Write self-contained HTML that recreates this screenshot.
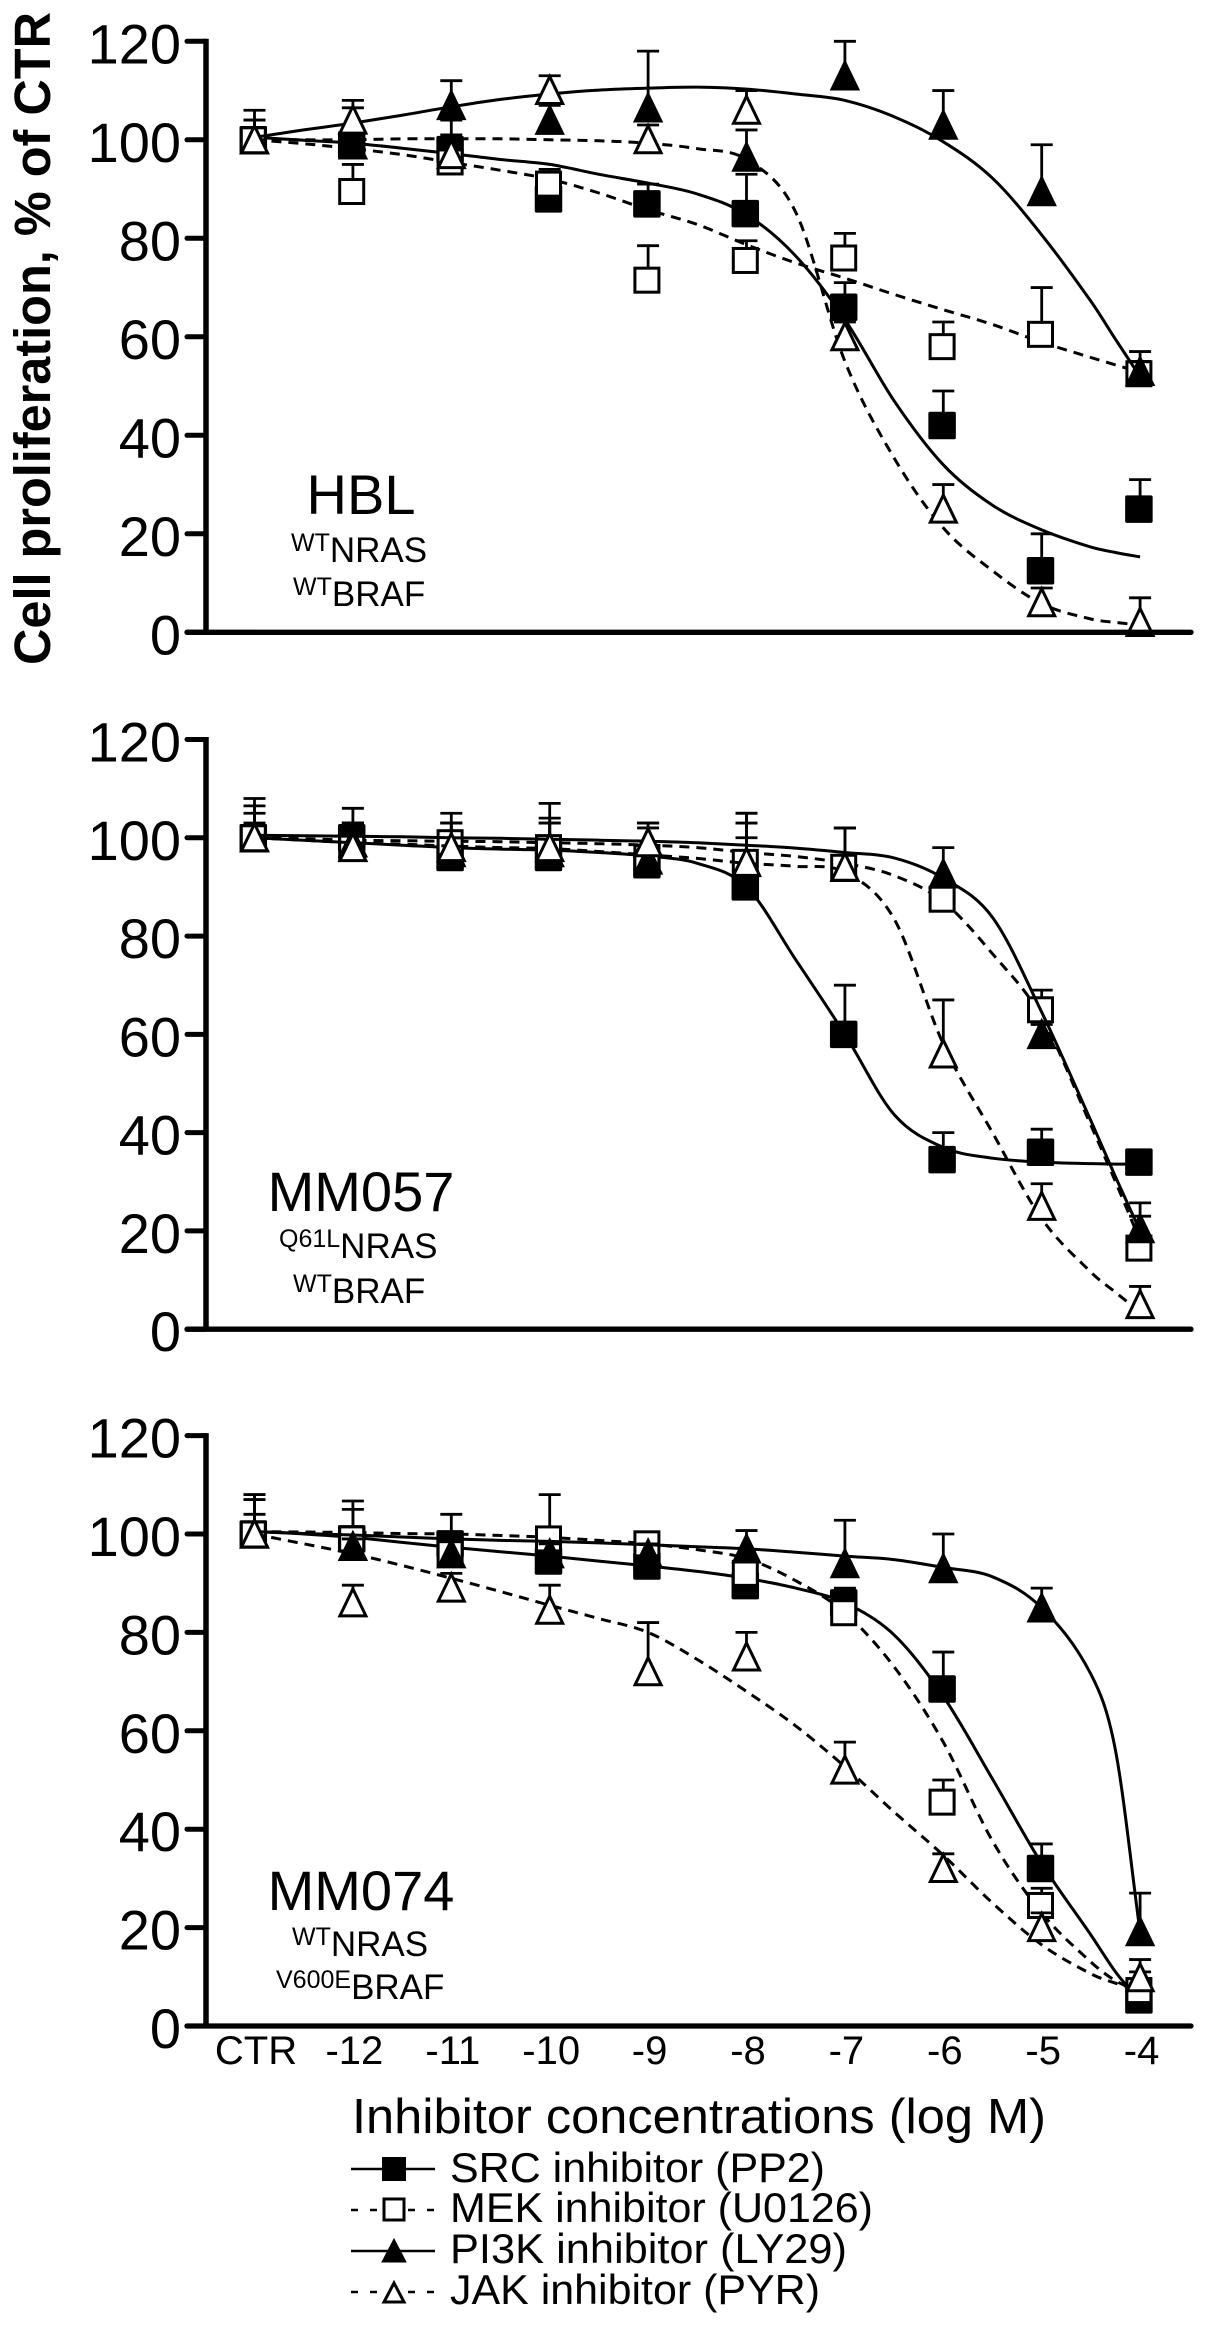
<!DOCTYPE html>
<html lang="en">
<head>
<meta charset="utf-8">
<title>Cell proliferation vs inhibitor concentration</title>
<style>
html,body{margin:0;padding:0;background:#fff;}
svg{display:block;}
text{font-family:"Liberation Sans",Arial,sans-serif;fill:#000;}
</style>
</head>
<body>
<svg id="chart" xmlns="http://www.w3.org/2000/svg" width="1205" height="2327" viewBox="0 0 1205 2327">
  <rect x="0" y="0" width="1205" height="2327" fill="#fff"/>
  <text transform="translate(50,665) rotate(-90)" font-size="51" font-weight="700" textLength="653" lengthAdjust="spacingAndGlyphs">Cell proliferation, % of CTR</text>

  <text x="361" y="514" font-size="56" text-anchor="middle">HBL</text>
  <text x="291" y="562" font-size="35"><tspan font-size="25" dy="-11">WT</tspan><tspan dy="11">NRAS</tspan></text>
  <text x="293" y="606" font-size="35"><tspan font-size="25" dy="-11">WT</tspan><tspan dy="11">BRAF</tspan></text>

  <text x="361" y="1211" font-size="56" text-anchor="middle">MM057</text>
  <text x="279" y="1258" font-size="35"><tspan font-size="25" dy="-11">Q61L</tspan><tspan dy="11">NRAS</tspan></text>
  <text x="293" y="1303" font-size="35"><tspan font-size="25" dy="-11">WT</tspan><tspan dy="11">BRAF</tspan></text>

  <text x="361" y="1910" font-size="56" text-anchor="middle">MM074</text>
  <text x="292" y="1956" font-size="35"><tspan font-size="25" dy="-11">WT</tspan><tspan dy="11">NRAS</tspan></text>
  <text x="276" y="1999" font-size="35"><tspan font-size="25" dy="-11">V600E</tspan><tspan dy="11">BRAF</tspan></text>

  <text x="352" y="2133" font-size="49" textLength="694" lengthAdjust="spacingAndGlyphs">Inhibitor concentrations (log M)</text>

  <g>
    <g>
      <line x1="351" x2="435" y1="2169" y2="2169" stroke="#000" stroke-width="2.6"/>
      <rect x="382.500" y="2157.500" width="23" height="23" fill="#000" stroke="#000" stroke-width="1"/>
      <text x="450" y="2182" font-size="42" textLength="375" lengthAdjust="spacingAndGlyphs">SRC inhibitor (PP2)</text>
    </g>
    <g>
      <line x1="351" x2="435" y1="2210" y2="2210" stroke="#000" stroke-width="2.6" stroke-dasharray="7 12"/>
      <rect x="384" y="2199" width="20" height="21" fill="#fff" stroke="#000" stroke-width="3"/>
      <text x="450" y="2222" font-size="42" textLength="423" lengthAdjust="spacingAndGlyphs">MEK inhibitor (U0126)</text>
    </g>
    <g>
      <line x1="351" x2="435" y1="2251" y2="2251" stroke="#000" stroke-width="2.6"/>
      <polygon points="394,2239 406,2262 382,2262" fill="#000" stroke="#000" stroke-width="1"/>
      <text x="450" y="2263" font-size="42" textLength="397" lengthAdjust="spacingAndGlyphs">PI3K inhibitor (LY29)</text>
    </g>
    <g>
      <line x1="351" x2="435" y1="2292" y2="2292" stroke="#000" stroke-width="2.6" stroke-dasharray="7 12"/>
      <polygon points="394,2283 404,2302 384,2302" fill="#fff" stroke="#000" stroke-width="3"/>
      <text x="450" y="2304" font-size="42" textLength="370" lengthAdjust="spacingAndGlyphs">JAK inhibitor (PYR)</text>
    </g>
  </g>
</svg>
<script>
// Shared axis data
const categories = ["CTR","-12","-11","-10","-9","-8","-7","-6","-5","-4"];
const concLogM = [-13,-12,-11,-10,-9,-8,-7,-6,-5,-4];
const yTicks = [0,20,40,60,80,100,120];
const curveLogM = [-13,-12.5,-12,-11.5,-11,-10.5,-10,-9.5,-9,-8.5,-8,-7.5,-7,-6.5,-6,-5.5,-5,-4.5,-4.25,-4];

// HBL panel
const hblSrc = [100,99,98,88,87,85,66,42,12.5,25];
const hblSrcTop = [104,101,104,90,91,93,71,49,20,31];
const hblSrcFit = [100.5,99.9,99.3,98.3,97.2,96,95,93,91.2,89,84.8,76.4,63.5,47,34,25.8,20.8,17.3,16.2,15.3];
const hblMek = [100,89.5,95.5,91,71.5,75.5,76,58,60.5,52.5];
const hblMekTop = [104,95,98,94,78.5,79.5,81,63,70,55];
const hblMekFit = [100,99.2,98.2,97,95.4,93.8,92,89.2,85.8,82.8,78.7,75,71.9,68.6,65.5,62.5,58.9,55.8,54.3,52.8];
const hblPi3k = [100,99,107,104,106.5,96.5,113,103,89.5,53];
const hblPi3kTop = [104,106.5,112,107,118,102,120,110,99,57];
const hblPi3kFit = [100.5,102,103.4,105,106.7,108.2,109.3,110.1,110.5,110.7,110.3,109.3,108,104.7,99.6,92.2,80.7,67.2,59.5,51.9];
const hblJak = [100,104,97,110,100,106,60,25,6,2];
const hblJakTop = [106,108,101,113,103,110,63,30,9,7];
const hblJakFit = [100,100,100,100.2,100.2,100.2,100,99.8,99.3,98.2,96,85.3,55,35.4,21.2,12.5,5.8,2.7,2,1.5];

// MM057 panel
const mm057Src = [100,100,96,96,94.5,90,60,34.5,36,34];
const mm057SrcTop = [103,103,100.5,103,96,100,70,40,40.7,35];
const mm057SrcFit = [100,99.5,99,98.5,98,97.7,97.5,97,96.3,94.8,90,75.2,60,43.7,37,34.8,34,33.7,33.6,33.6];
const mm057Mek = [100,98,99,98,96,95,94,87.5,65,16.5];
const mm057MekTop = [106.5,106,103,104,102,103,102,90,69,23];
const mm057MekFit = [100,99.8,99.5,99.4,99.3,99.2,99,98.8,98.5,98,97,96.2,94.8,92.3,87,76.4,63.5,41.5,30,18];
const mm057Pi3k = [100,99,97,97,95.5,95,94,92.7,60,20.5];
const mm057Pi3kTop = [105,103,103,107,103,105,102,98,62,25.7];
const mm057Pi3kFit = [100.5,100.4,100.3,100.2,100,99.9,99.7,99.5,99.3,99,98.5,97.9,97,95.9,91.8,83.8,64.5,42.4,31,20];
const mm057Jak = [100,98,98,98,99,95,94,56,25,5];
const mm057JakTop = [108,103,105,103,103,105,102,67,29.6,8.7];
const mm057JakFit = [100,99.5,99,98.7,98.3,98,97.8,97.2,96.5,95.8,94.8,94.2,93,83.5,58,40,22.5,11.6,7.5,3.5];

// MM074 panel
const mm074Src = [100,99,98,94.5,93.5,89.5,86,68.5,32,5.3];
const mm074SrcTop = [104,105,104,98,96,92,89,76,37,7];
const mm074SrcFit = [100.5,100,99.3,98.3,97.3,96.4,95.5,94.5,93.5,92.4,91,89,86,79.5,67,50.2,33,18.5,11,5];
const mm074Mek = [100,99,96,99,98,92,84,45.5,24.5,7.2];
const mm074MekTop = [107,106.7,100,108,100,95,88,50,28,11];
const mm074MekFit = [100.5,100.4,100.3,100.1,100,99.7,99.3,98.7,98,96.8,95,90.5,84,73,57.7,37.6,23,13,9.2,7];
const mm074Pi3k = [100,97.5,96,96,96,97,94,93,85,19.2];
const mm074Pi3kTop = [108,99,100,98,98,100.7,102.8,100,89,27];
const mm074Pi3kFit = [100.5,100.1,99.8,99.4,99,98.7,98.5,98.2,97.8,97.4,97,96.3,95.5,94.8,93.2,91.3,85,71.5,56,19];
const mm074Jak = [100,86,89,84.5,72,75,52,32,20,9.8];
const mm074JakTop = [108,89.6,92,89.6,82,80,57.7,35,23,13.5];
const mm074JakFit = [100,98,96,93.6,91,88.3,85.5,82.8,80,74.5,68,61,52.7,43.5,34.7,25,16.5,10.6,8.7,7.3];

const svg = document.getElementById('chart');
const NS = 'http://www.w3.org/2000/svg';

function make(tag, attrs, parent) {
  const n = document.createElementNS(NS, tag);
  for (const k in attrs) n.setAttribute(k, attrs[k]);
  parent.appendChild(n);
  return n;
}

function xScale(logM) { return 254.5 + (logM + 13) * 98.4; }
function yScaleFor(zeroY, topY) {
  const unit = (zeroY - topY) / 120;
  return function (v) { return zeroY - v * unit; };
}

function fitPath(xs, ys, x, y) {
  const p = xs.map(function (lx, i) { return [x(lx), y(ys[i])]; });
  const n = p.length;
  const m = p.map(function (pt, i) {
    const a = p[Math.max(i - 1, 0)], b = p[Math.min(i + 1, n - 1)];
    return (b[1] - a[1]) / (b[0] - a[0]);
  });
  let d = 'M' + p[0][0].toFixed(1) + ',' + p[0][1].toFixed(1);
  for (let i = 0; i < n - 1; i++) {
    const h = (p[i + 1][0] - p[i][0]) / 3;
    d += 'C' + (p[i][0] + h).toFixed(1) + ',' + (p[i][1] + m[i] * h).toFixed(1) + ' ' +
      (p[i + 1][0] - h).toFixed(1) + ',' + (p[i + 1][1] - m[i + 1] * h).toFixed(1) + ' ' +
      p[i + 1][0].toFixed(1) + ',' + p[i + 1][1].toFixed(1);
  }
  return d;
}

function drawAxes(panelName, zeroY, y, group) {
  const yAxis = make('line', {x1: 206, x2: 206, y1: y(120) - 2.5, y2: zeroY, stroke: '#000', 'stroke-width': 5.5}, group);
  
  
  const xAxis = make('line', {x1: 187, x2: 1191, y1: zeroY, y2: zeroY, stroke: '#000', 'stroke-width': 5.3, 'stroke-linecap': 'round'}, group);
  
  
  yTicks.forEach(function (t) {
    const tick = make('line', {x1: 187, x2: 205, y1: y(t), y2: y(t), stroke: '#000', 'stroke-width': 5, 'stroke-linecap': 'round'}, group);
    
    
    const label = make('text', {x: 181, y: y(t) + 22, 'font-size': 56, 'text-anchor': 'end'}, group);
    
    
    label.textContent = String(t);
  });
}

function drawMarker(kind, cx, cy, group) {
  let m;
  if (kind === 'src') {
    m = make('rect', {x: cx - 14.200, y: cy - 13, width: 26, height: 26, fill: '#000', stroke: '#000', 'stroke-width': 1.5, rx: 1}, group);
  } else if (kind === 'mek') {
    m = make('rect', {x: cx - 13.200, y: cy - 12, width: 24, height: 24, fill: '#fff', stroke: '#000', 'stroke-width': 3}, group);
  } else if (kind === 'pi3k') {
    m = make('polygon', {points: cx + ',' + (cy - 15) + ' ' + (cx + 14) + ',' + (cy + 14) + ' ' + (cx - 14) + ',' + (cy + 14), fill: '#000', stroke: '#000', 'stroke-width': 1.5}, group);
  } else {
    m = make('polygon', {points: cx + ',' + (cy - 14) + ' ' + (cx + 13) + ',' + (cy + 13) + ' ' + (cx - 13) + ',' + (cy + 13), fill: '#fff', stroke: '#000', 'stroke-width': 3}, group);
  }
  return m;
}

function drawSeries(panelName, kind, dashed, vals, tops, fit, y, group) {
  const g = make('g', {}, group);
  
  
  const attrs = {d: fitPath(curveLogM, fit, xScale, y), fill: 'none', stroke: '#000', 'stroke-width': 3};
  if (dashed) attrs['stroke-dasharray'] = '10 7';
  const curve = make('path', attrs, g);
  
  
  concLogM.forEach(function (lm, i) {
    const cx = xScale(lm), cy = y(vals[i]), ty = y(tops[i]);
    const bar = make('path', {d: 'M' + cx + ',' + cy + 'V' + ty + 'M' + (cx - 11) + ',' + ty + 'H' + (cx + 11), fill: 'none', stroke: '#000', 'stroke-width': 2.8}, g);
    
    
  });
  concLogM.forEach(function (lm, i) {
    const marker = drawMarker(kind, xScale(lm), y(vals[i]), g);
    
    
  });
}

function drawPanel(panelName, zeroY, topY, seriesList) {
  const group = make('g', {}, svg);
  
  
  const y = yScaleFor(zeroY, topY);
  seriesList.forEach(function (s) {
    drawSeries(panelName, s[0], s[1], s[2], s[3], s[4], y, group);
  });
  drawAxes(panelName, zeroY, y, group);
}

drawPanel('hbl', 632.3, 41.3, [
  ['src', false, hblSrc, hblSrcTop, hblSrcFit],
  ['mek', true, hblMek, hblMekTop, hblMekFit],
  ['pi3k', false, hblPi3k, hblPi3kTop, hblPi3kFit],
  ['jak', true, hblJak, hblJakTop, hblJakFit]
]);
drawPanel('mm057', 1329.2, 739.5, [
  ['src', false, mm057Src, mm057SrcTop, mm057SrcFit],
  ['mek', true, mm057Mek, mm057MekTop, mm057MekFit],
  ['pi3k', false, mm057Pi3k, mm057Pi3kTop, mm057Pi3kFit],
  ['jak', true, mm057Jak, mm057JakTop, mm057JakFit]
]);
drawPanel('mm074', 2026, 1435.6, [
  ['src', false, mm074Src, mm074SrcTop, mm074SrcFit],
  ['mek', true, mm074Mek, mm074MekTop, mm074MekFit],
  ['pi3k', false, mm074Pi3k, mm074Pi3kTop, mm074Pi3kFit],
  ['jak', true, mm074Jak, mm074JakTop, mm074JakFit]
]);

categories.forEach(function (c, i) {
  const t = make('text', {x: xScale(concLogM[i]) + 1.5, y: 2064, 'font-size': 40, 'text-anchor': 'middle'}, svg);
  
  
  t.textContent = c;
});
</script>
</body>
</html>
